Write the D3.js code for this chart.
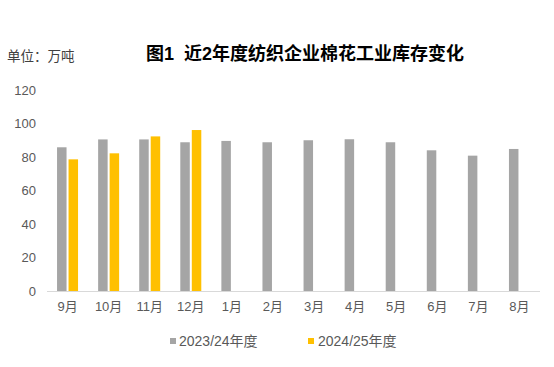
<!DOCTYPE html>
<html><head><meta charset="utf-8">
<script src="https://cdn.jsdelivr.net/npm/d3@7"></script>
<style>
body{margin:0;background:#fff;}
text{font-family:"Liberation Sans",Arial,"Noto Sans CJK SC",sans-serif;}
</style></head>
<body><svg id="c" width="554" height="367"></svg>
<script>
const months = ["9月","10月","11月","12月","1月","2月","3月","4月","5月","6月","7月","8月"];
const series2324 = [85.8,90.5,90.5,88.8,89.6,88.8,90.0,90.6,88.8,84.0,80.8,84.8];
const series2425 = [78.6,82.2,92.3,96.1,null,null,null,null,null,null,null,null];
const yTicks = [0,20,40,60,80,100,120];
const seriesNames = ["2023/24年度","2024/25年度"];
const colors = ["#A5A5A5","#FFC000"];

const svg = d3.select("#c");
const x = d3.scaleBand().domain(months).range([47,540]);
const y = d3.scaleLinear().domain([0,120]).range([291,90]);

// y tick labels
svg.append("g").selectAll("text").data(yTicks).enter().append("text")
  .attr("x",36).attr("y",d=>y(d)+4.5).attr("text-anchor","end")
  .attr("font-size",13).attr("fill","#595959").text(d=>d);

// bars
const bw = 9.5, gap = 2;
svg.append("g").selectAll("rect").data(series2324).enter().append("rect")
  .attr("x",(d,i)=>x(months[i])+x.bandwidth()/2-gap/2-bw)
  .attr("y",d=>y(d)).attr("width",bw).attr("height",d=>y(0)-y(d))
  .attr("fill",colors[0]);
svg.append("g").selectAll("rect").data(series2425.map((v,i)=>({v,i})).filter(d=>d.v!=null)).enter().append("rect")
  .attr("x",d=>x(months[d.i])+x.bandwidth()/2+gap/2)
  .attr("y",d=>y(d.v)).attr("width",bw).attr("height",d=>y(0)-y(d.v))
  .attr("fill",colors[1]);

// x axis line
svg.append("line").attr("x1",47).attr("x2",540).attr("y1",y(0)+0.5).attr("y2",y(0)+0.5)
  .attr("stroke","#D9D9D9").attr("stroke-width",1);

// month labels
svg.append("g").selectAll("text").data(months).enter().append("text")
  .attr("x",d=>x(d)+x.bandwidth()/2).attr("y",311).attr("text-anchor","middle")
  .attr("font-size",13).attr("fill","#595959").text(d=>d);

// title
svg.append("text").attr("x",305).attr("y",60).attr("text-anchor","middle")
  .attr("font-size",18).attr("font-weight","bold").attr("fill","#000")
  .attr("xml:space","preserve").style("white-space","pre").text("图1  近2年度纺织企业棉花工业库存变化");

// unit
svg.append("text").attr("x",7).attr("y",61).attr("font-size",13.5).attr("fill","#404040").text("单位：万吨");

// legend
const lg = [{x:170,tx:179},{x:308,tx:318}];
lg.forEach((p,i)=>{
  svg.append("rect").attr("x",p.x).attr("y",338).attr("width",6).attr("height",6).attr("fill",colors[i]);
  svg.append("text").attr("x",p.tx).attr("y",346).attr("font-size",14).attr("fill","#595959").text(seriesNames[i]);
});
</script></body></html>
